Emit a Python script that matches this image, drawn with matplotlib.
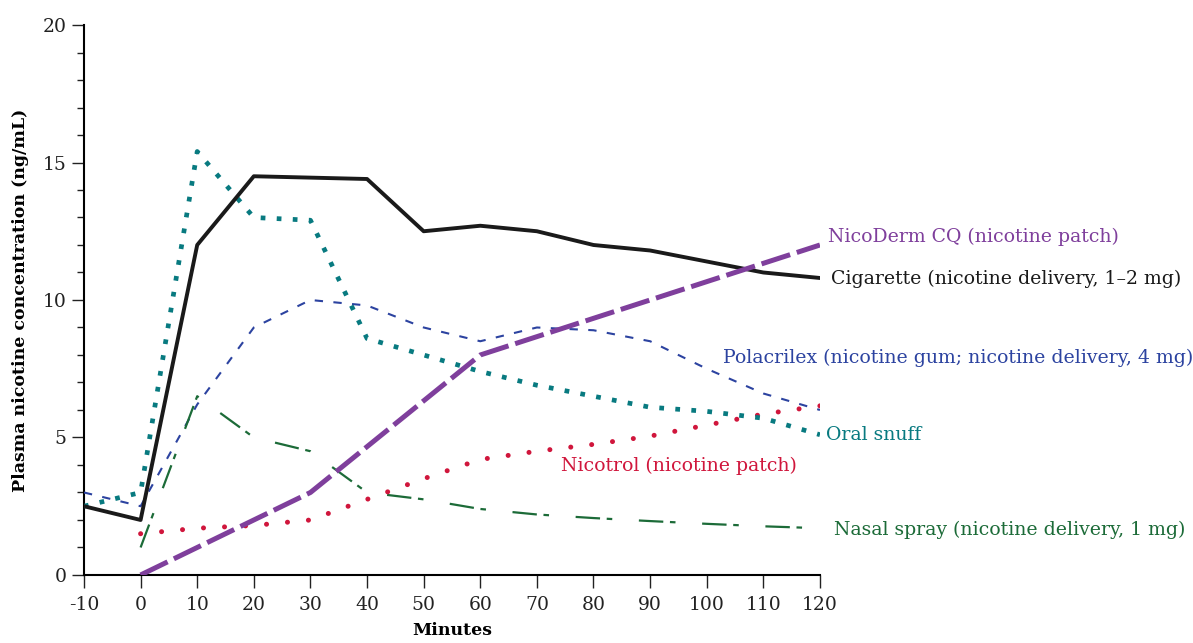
import numpy as np
import matplotlib
matplotlib.use("Agg")
import matplotlib.pyplot as plt
from matplotlib.ticker import MultipleLocator

plt.rcParams['font.family'] = ['DejaVu Serif']
plt.rcParams['axes.unicode_minus'] = False

# Minutes sampled for each series
minutes = [-10, 0, 10, 20, 30, 40, 50, 60, 70, 80, 90, 100, 110, 120]
minutes_from0 = [0, 10, 20, 30, 40, 50, 60, 70, 80, 90, 100, 110, 120]

cigarette = [2.5, 2.0, 12.0, 14.5, 14.45, 14.4, 12.5, 12.7, 12.5, 12.0, 11.8, 11.4, 11.0, 10.8]
oral_snuff = [2.5, 3.0, 15.4, 13.0, 12.9, 8.6, 8.0, 7.4, 6.9, 6.5, 6.1, 5.95, 5.7, 5.1]
polacrilex = [3.0, 2.5, 6.2, 9.0, 10.0, 9.8, 9.0, 8.5, 9.0, 8.9, 8.5, 7.5, 6.6, 6.0]
nasal_spray = [1.0, 6.5, 5.0, 4.5, 3.0, 2.75, 2.4, 2.2, 2.07, 1.96, 1.86, 1.77, 1.7]
nicotrol = [1.5, 1.7, 1.8, 2.0, 2.75, 3.5, 4.2, 4.5, 4.75, 5.05, 5.45, 5.85, 6.15]
nicoderm_min = [0, 30, 60, 120]
nicoderm = [0, 3.0, 8.0, 12.0]

labels = {
    'nicoderm': "NicoDerm CQ (nicotine patch)",
    'cigarette': "Cigarette (nicotine delivery, 1\u20132 mg)",
    'polacrilex': "Polacrilex (nicotine gum; nicotine delivery, 4 mg)",
    'snuff': "Oral snuff",
    'nicotrol': "Nicotrol (nicotine patch)",
    'nasal': "Nasal spray (nicotine delivery, 1 mg)",
}

c_black = '#1a1a1a'
c_teal = '#087a80'
c_blue = '#2c43a0'
c_green = '#1c6b38'
c_red = '#d0163c'
c_purple = '#7f3f9c'

fig = plt.figure(figsize=(11.93, 6.43), dpi=100)
ax = fig.add_axes([0.0704, 0.1058, 0.6169, 0.8553])

# Lines
ax.plot(minutes, polacrilex, color=c_blue, lw=1.5, linestyle=(0, (4, 5)), zorder=3)
ax.plot(minutes_from0, nasal_spray, color=c_green, lw=1.6, linestyle=(0, (11, 3, 2.5, 12)), zorder=3)
ax.plot(minutes_from0, nicotrol, color=c_red, lw=3.6, linestyle=(0, (0.01, 4.2)),
        dash_capstyle='round', zorder=3)
ax.plot(minutes, oral_snuff, color=c_teal, lw=3.4, linestyle=(0, (1, 2.4)), zorder=4)
ax.plot(minutes, cigarette, color=c_black, lw=2.8, zorder=5)
ax.plot(nicoderm_min, nicoderm, color=c_purple, lw=3.6, linestyle=(0, (6, 1.4)), zorder=6)

# Line labels
fs = 13.6
ax.text(121.5, 12.3, labels['nicoderm'], color=c_purple, fontsize=fs, va='center', clip_on=False)
ax.text(122, 10.75, labels['cigarette'], color=c_black, fontsize=fs, va='center', clip_on=False)
ax.text(102.8, 7.9, labels['polacrilex'], color=c_blue, fontsize=fs, va='center', clip_on=False)
ax.text(121, 5.1, labels['snuff'], color=c_teal, fontsize=fs, va='center', clip_on=False)
ax.text(74.3, 3.95, labels['nicotrol'], color=c_red, fontsize=fs, va='center', clip_on=False)
ax.text(122.5, 1.65, labels['nasal'], color=c_green, fontsize=fs, va='center', clip_on=False)

# Axes
ax.set_xlim(-10, 120)
ax.set_ylim(0, 20)
ax.set_xticks(np.arange(-10, 121, 10))
ax.set_yticks([0, 5, 10, 15, 20])
ax.yaxis.set_minor_locator(MultipleLocator(1))
ax.spines['top'].set_visible(False)
ax.spines['right'].set_visible(False)
ax.spines['left'].set_linewidth(1.5)
ax.spines['bottom'].set_linewidth(1.5)
ax.tick_params(axis='both', which='major', length=9, width=1.0, labelsize=13.5, colors='#222222')
ax.tick_params(axis='y', which='minor', length=5, width=1.0, colors='#222222')
ax.tick_params(axis='x', which='major', pad=6)

ax.set_xlabel("Minutes", fontsize=12.5, fontweight='bold', labelpad=6)
ax.set_ylabel("Plasma nicotine concentration (ng/mL)", fontsize=12.5, fontweight='bold', labelpad=10)

fig.savefig("out.png", dpi=100)
